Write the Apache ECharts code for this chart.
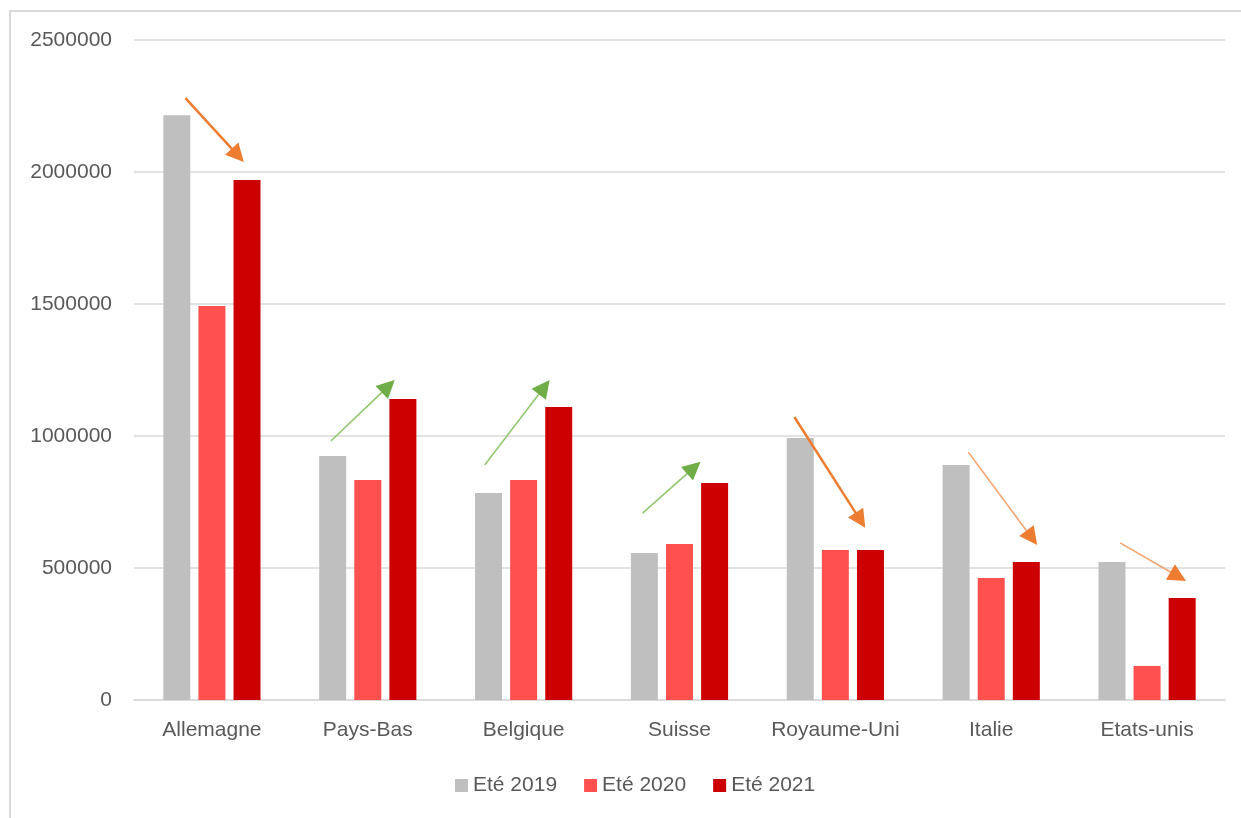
<!DOCTYPE html>
<html>
<head>
<meta charset="utf-8">
<style>
html,body{margin:0;padding:0;background:#fff;}
#chart{width:1241px;height:818px;}
</style>
<script src="https://cdn.jsdelivr.net/npm/echarts@6/dist/echarts.min.js"></script>
</head>
<body>
<div id="chart"></div>
<script>
const categories = ['Allemagne', 'Pays-Bas', 'Belgique', 'Suisse', 'Royaume-Uni', 'Italie', 'Etats-unis'];
const seriesNames = ['Eté 2019', 'Eté 2020', 'Eté 2021'];
const ete2019 = [2215000, 924000, 784000, 557000, 992000, 890000, 523000];
const ete2020 = [1492000, 833000, 833000, 591000, 568000, 462000, 129000];
const ete2021 = [1970000, 1140000, 1110000, 822000, 568000, 523000, 386000];
const yTicks = [0, 500000, 1000000, 1500000, 2000000, 2500000];
// annotation arrows in data space: [category index, start offset, start value, end offset, end value, kind]
const arrows = [
  [0, -0.17, 2280000, 0.205, 2038000, 'downStrong'],
  [1, -0.237, 981000, 0.173, 1212000, 'up'],
  [2, -0.25, 890000, 0.167, 1212000, 'up'],
  [3, -0.237, 708000, 0.135, 902000, 'up'],
  [4, -0.263, 1072000, 0.192, 652000, 'downStrong'],
  [5, -0.147, 939000, 0.295, 587000, 'downLight'],
  [6, -0.173, 595000, 0.25, 451000, 'downLight']
];

const colors = ['#BFBFBF', '#FF5050', '#CC0000'];
const font = "'Liberation Sans', Arial, sans-serif";
const arrowStyles = {
  downStrong: {line: '#ED7D31', head: '#ED7D31', width: 2.5},
  downLight: {line: '#F4A46E', head: '#ED7D31', width: 1.6},
  up: {line: '#93C76F', head: '#70AD47', width: 1.6}
};

const chart = echarts.init(document.getElementById('chart'), null, {renderer: 'canvas'});
const values = [ete2019, ete2020, ete2021];
chart.setOption({
  animation: false,
  backgroundColor: '#fff',
  grid: {left: 134, right: 16, top: 40, bottom: 118, containLabel: false},
  legend: {
    data: seriesNames,
    left: 450, top: 770,
    itemWidth: 13, itemHeight: 13, itemGap: 27,
    icon: 'rect',
    textStyle: {color: '#595959', fontSize: 21, fontFamily: font}
  },
  xAxis: {
    type: 'category',
    data: categories,
    axisLine: {lineStyle: {color: '#D9D9D9', width: 1.5}},
    axisTick: {show: false},
    axisLabel: {color: '#595959', fontSize: 21, fontFamily: font, margin: 20, interval: 0}
  },
  yAxis: {
    type: 'value',
    min: yTicks[0], max: yTicks[yTicks.length - 1], interval: yTicks[1] - yTicks[0],
    axisLine: {show: false},
    axisTick: {show: false},
    splitLine: {lineStyle: {color: '#D9D9D9', width: 1.5}},
    axisLabel: {color: '#595959', fontSize: 21, fontFamily: font, margin: 22, formatter: v => String(v)}
  },
  series: seriesNames.map((n, i) => ({
    name: n,
    type: 'bar',
    data: values[i],
    barWidth: 27,
    barGap: '30%',
    itemStyle: {color: colors[i]}
  }))
});

function toPx(cat, off, val) {
  const p0 = chart.convertToPixel({xAxisIndex: 0, yAxisIndex: 0}, [0, val]);
  const p1 = chart.convertToPixel({xAxisIndex: 0, yAxisIndex: 0}, [1, val]);
  const step = p1[0] - p0[0];
  return [p0[0] + (cat + off) * step, p0[1]];
}

const graphics = [{
  type: 'rect', silent: true, z: -1,
  shape: {x: 10, y: 11, width: 1400, height: 1000},
  style: {fill: 'none', stroke: '#D9D9D9', lineWidth: 2}
}];
arrows.forEach(a => {
  const s = toPx(a[0], a[1], a[2]);
  const e = toPx(a[0], a[3], a[4]);
  const st = arrowStyles[a[5]];
  const dx = e[0] - s[0], dy = e[1] - s[1];
  const len = Math.sqrt(dx * dx + dy * dy);
  const ux = dx / len, uy = dy / len;
  const L = 18, W = 9;
  const bx = e[0] - ux * L, by = e[1] - uy * L;
  graphics.push({
    type: 'line', silent: true, z: 10,
    shape: {x1: s[0], y1: s[1], x2: bx + ux * 2, y2: by + uy * 2},
    style: {stroke: st.line, lineWidth: st.width}
  });
  graphics.push({
    type: 'polygon', silent: true, z: 10,
    shape: {points: [[e[0], e[1]], [bx - uy * W, by + ux * W], [bx + uy * W, by - ux * W]]},
    style: {fill: st.head}
  });
});
chart.setOption({graphic: graphics});
</script>
</body>
</html>
